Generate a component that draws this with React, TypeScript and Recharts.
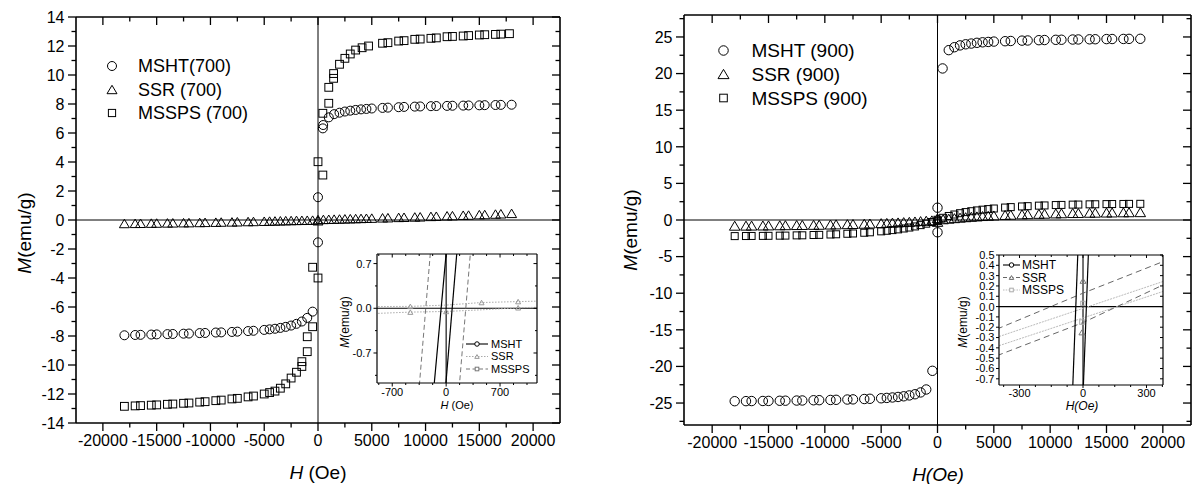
import React from 'react';
import { ScatterChart, ComposedChart, Scatter, Line, XAxis, YAxis, ReferenceLine } from 'recharts';

const FONT = '"Liberation Sans", Arial, Helvetica, sans-serif';

type Pt = [number, number];
const pts = (a: Pt[]) => a.map(([h, m]) => ({ h, m }));

// ---------------- main panel (700) ----------------
const MSHT_700: Pt[] = [
  [-18000, -7.95], [-17000, -7.93], [-16500, -7.92], [-15500, -7.9], [-15000, -7.89], [-14000, -7.87], [-13500, -7.86],
  [-12500, -7.84], [-12000, -7.83], [-11000, -7.8], [-10500, -7.79], [-9500, -7.76], [-9000, -7.75], [-8000, -7.72],
  [-7500, -7.7], [-6500, -7.66], [-6000, -7.64], [-5000, -7.58], [-4500, -7.54], [-4000, -7.5], [-3500, -7.44],
  [-3000, -7.37], [-2500, -7.28], [-2000, -7.16], [-1500, -7.0], [-1000, -6.75], [-500, -6.32],
  [0, 1.57], [0, -1.54],
  [450, 6.32], [480, 6.55], [1000, 7.08], [1500, 7.3], [2000, 7.4], [2500, 7.48], [3000, 7.54], [3500, 7.59], [4000, 7.63],
  [4500, 7.66], [5000, 7.69], [6000, 7.73], [6500, 7.75], [7500, 7.78], [8000, 7.8], [9000, 7.82], [9500, 7.83],
  [10500, 7.85], [11000, 7.86], [12000, 7.87], [12500, 7.88], [13500, 7.89], [14000, 7.9], [15000, 7.91], [15500, 7.92],
  [16500, 7.93], [17000, 7.94], [18000, 7.95],
];
const SSR_700: Pt[] = [
  [-18000, -0.24], [-17000, -0.23], [-16500, -0.225], [-15500, -0.215], [-15000, -0.21], [-14000, -0.2], [-13500, -0.195],
  [-12500, -0.185], [-12000, -0.18], [-11000, -0.17], [-10500, -0.16], [-9500, -0.15], [-9000, -0.14], [-8000, -0.13],
  [-7500, -0.12], [-6500, -0.105], [-6000, -0.1], [-5000, -0.085], [-4500, -0.075], [-4000, -0.065], [-3500, -0.055],
  [-3000, -0.045], [-2500, -0.035], [-2000, -0.025], [-1500, -0.02], [-1000, -0.015], [-500, -0.01],
  [0, 0.03], [0, -0.05],
  [500, 0.04], [1000, 0.05], [1500, 0.06], [2000, 0.07], [2500, 0.08], [3000, 0.09], [3500, 0.1], [4000, 0.11],
  [4500, 0.12], [5000, 0.13], [6000, 0.15], [6500, 0.16], [7500, 0.18], [8000, 0.19], [9000, 0.21], [9500, 0.22],
  [10500, 0.25], [11000, 0.26], [12000, 0.29], [12500, 0.3], [13500, 0.33], [14000, 0.34], [15000, 0.37], [15500, 0.38],
  [16500, 0.41], [17000, 0.43], [18000, 0.46],
];
const MSSPS_700: Pt[] = [
  [-18000, -12.85], [-17000, -12.82], [-16500, -12.8], [-15500, -12.77], [-15000, -12.75], [-14000, -12.71], [-13500, -12.69],
  [-12500, -12.64], [-12000, -12.62], [-11000, -12.56], [-10500, -12.53], [-9500, -12.46], [-9000, -12.42], [-8000, -12.34],
  [-7500, -12.3], [-6500, -12.2], [-6000, -12.14], [-5000, -12.0], [-4500, -11.9], [-4000, -11.8], [-3500, -11.6],
  [-3000, -11.3], [-2500, -10.9], [-2000, -10.5], [-1500, -10.1], [-1500, -9.77], [-1000, -9.08], [-1000, -8.05],
  [-500, -7.36], [-500, -3.26], [0, -4.0], [0, 4.02],
  [450, 3.1], [450, 7.36], [1000, 8.05], [1000, 9.15], [1450, 9.77], [1450, 10.1], [2000, 10.74], [2500, 11.15],
  [3000, 11.45], [3500, 11.72], [4100, 11.88], [4700, 12.0], [6000, 12.19], [6500, 12.23], [7500, 12.34], [8000, 12.37],
  [9000, 12.46], [9500, 12.48], [10500, 12.53], [11000, 12.56], [12000, 12.64], [12500, 12.66], [13500, 12.69],
  [14000, 12.72], [15000, 12.76], [15500, 12.78], [16500, 12.8], [17000, 12.82], [17800, 12.85],
];

// ---------------- main panel (900) ----------------
const MSHT_900: Pt[] = [
  [-18000, -24.75], [-17000, -24.74], [-16500, -24.73], [-15500, -24.72], [-15000, -24.71], [-14000, -24.69], [-13500, -24.68],
  [-12500, -24.66], [-12000, -24.65], [-11000, -24.62], [-10500, -24.61], [-9500, -24.58], [-9000, -24.56], [-8000, -24.52],
  [-7500, -24.5], [-6500, -24.45], [-6000, -24.42], [-5000, -24.35], [-4500, -24.3], [-4000, -24.24], [-3500, -24.17],
  [-3000, -24.08], [-2500, -23.96], [-2000, -23.8], [-1500, -23.55], [-1000, -23.15], [-450, -20.6],
  [0, 1.68], [0, -1.68],
  [450, 20.7], [1000, 23.2], [1500, 23.6], [2000, 23.85], [2500, 24.0], [3000, 24.1], [3500, 24.2], [4000, 24.27],
  [4500, 24.32], [5000, 24.37], [6000, 24.42], [6500, 24.45], [7500, 24.5], [8000, 24.52], [9000, 24.56], [9500, 24.58],
  [10500, 24.61], [11000, 24.62], [12000, 24.65], [12500, 24.66], [13500, 24.68], [14000, 24.69], [15000, 24.71],
  [15500, 24.72], [16500, 24.73], [17000, 24.74], [18000, 24.75],
];
const SSR_900: Pt[] = [
  [-18000, -0.78], [-17000, -0.77], [-16500, -0.76], [-15500, -0.75], [-15000, -0.74], [-14000, -0.72], [-13500, -0.71],
  [-12500, -0.69], [-12000, -0.68], [-11000, -0.66], [-10500, -0.65], [-9500, -0.62], [-9000, -0.6], [-8000, -0.57],
  [-7500, -0.55], [-6500, -0.51], [-6000, -0.48], [-5000, -0.43], [-4500, -0.4], [-4000, -0.36], [-3500, -0.33],
  [-3000, -0.29], [-2500, -0.25], [-2000, -0.2], [-1500, -0.15], [-1000, -0.1], [-500, -0.05],
  [0, 0.25], [0, -0.25],
  [500, 0.1], [1000, 0.18], [1500, 0.25], [2000, 0.32], [2500, 0.38], [3000, 0.44], [3500, 0.49], [4000, 0.54],
  [4500, 0.58], [5000, 0.62], [6000, 0.69], [6500, 0.72], [7500, 0.77], [8000, 0.8], [9000, 0.84], [9500, 0.86],
  [10500, 0.9], [11000, 0.92], [12000, 0.95], [12500, 0.96], [13500, 0.99], [14000, 1.0], [15000, 1.02], [15500, 1.03],
  [16500, 1.05], [17000, 1.06], [18000, 1.07],
];
const MSSPS_900: Pt[] = [
  [-18000, -2.2], [-17000, -2.19], [-16500, -2.18], [-15500, -2.17], [-15000, -2.16], [-14000, -2.14], [-13500, -2.13],
  [-12500, -2.1], [-12000, -2.09], [-11000, -2.05], [-10500, -2.03], [-9500, -1.98], [-9000, -1.95], [-8000, -1.88],
  [-7500, -1.84], [-6500, -1.74], [-6000, -1.68], [-5000, -1.55], [-4500, -1.47], [-4000, -1.38], [-3500, -1.28],
  [-3000, -1.16], [-2500, -1.03], [-2000, -0.88], [-1500, -0.7], [-1000, -0.5], [-500, -0.27],
  [0, 0.03], [0, -0.15],
  [500, 0.3], [1000, 0.55], [1500, 0.75], [2000, 0.93], [2500, 1.08], [3000, 1.2], [3500, 1.31], [4000, 1.41],
  [4500, 1.49], [5000, 1.57], [6000, 1.7], [6500, 1.76], [7500, 1.85], [8000, 1.89], [9000, 1.96], [9500, 1.99],
  [10500, 2.04], [11000, 2.06], [12000, 2.1], [12500, 2.11], [13500, 2.14], [14000, 2.15], [15000, 2.17], [15500, 2.18],
  [16500, 2.19], [17000, 2.2], [18000, 2.21],
];

// ---------------- insets ----------------
const IN700_MSHT_A: Pt[] = [[-250, -2.44], [60, 1.65]];
const IN700_MSHT_B: Pt[] = [[-100, -2.57], [200, 1.75]];
const IN700_SSR_A: Pt[] = [[-1000, 0.026], [-465, 0.03], [0, 0.05], [460, 0.09], [935, 0.105], [1300, 0.115]];
const IN700_SSR_B: Pt[] = [[-1000, -0.085], [-465, -0.06], [0, -0.05], [460, -0.024], [935, 0.008], [1300, 0.02]];
const IN700_SSR_MARK: Pt[] = [[-465, 0.03], [460, 0.09], [935, 0.105], [-465, -0.06], [0, -0.05], [935, 0.008]];
const IN700_MSSPS_A: Pt[] = [[-400, -1.96], [-100, 2.39]];
const IN700_MSSPS_B: Pt[] = [[100, -2.25], [400, 2.1]];

const IN900_MSHT_A: Pt[] = [[-60, -1.4], [0, 1.84]];
const IN900_MSHT_B: Pt[] = [[-20, -1.94], [40, 1.3]];
const IN900_SSR_A: Pt[] = [[-450, -0.255], [0, 0.13], [420, 0.47]];
const IN900_SSR_B: Pt[] = [[-450, -0.51], [0, -0.155], [420, 0.25]];
const IN900_SSR_MARK: Pt[] = [[0, 0.25], [-5, -0.25]];
const IN900_MSSPS_A: Pt[] = [[-450, -0.327], [420, 0.272]];
const IN900_MSSPS_B: Pt[] = [[-450, -0.415], [420, 0.175]];
const IN900_MSSPS_MARK: Pt[] = [[0, 0.03], [-5, -0.15]];

// ---------------- ticks ----------------
const X_MAIN_TICKS = [-20000, -17500, -15000, -12500, -10000, -7500, -5000, -2500, 0, 2500, 5000, 7500, 10000, 12500, 15000, 17500, 20000];
const X_MAIN_MAJORS = [-20000, -15000, -10000, -5000, 0, 5000, 10000, 15000, 20000];
const Y700_TICKS = [-14, -13, -12, -11, -10, -9, -8, -7, -6, -5, -4, -3, -2, -1, 0, 1, 2, 3, 4, 5, 6, 7, 8, 9, 10, 11, 12, 13, 14];
const Y700_MAJORS = [-14, -12, -10, -8, -6, -4, -2, 0, 2, 4, 6, 8, 10, 12, 14];
const Y900_TICKS = [-27.5, -25, -22.5, -20, -17.5, -15, -12.5, -10, -7.5, -5, -2.5, 0, 2.5, 5, 7.5, 10, 12.5, 15, 17.5, 20, 22.5, 25, 27.5];
const Y900_MAJORS = [-25, -20, -15, -10, -5, 0, 5, 10, 15, 20, 25];
const IN700_X_TICKS = [-875, -700, -525, -350, -175, 0, 175, 350, 525, 700, 875, 1050];
const IN700_X_MAJORS = [-700, 0, 700];
const IN700_Y_TICKS = [-1.05, -0.7, -0.35, 0, 0.35, 0.7];
const IN700_Y_MAJORS = [-0.7, 0, 0.7];
const IN900_X_TICKS = [-375, -300, -225, -150, -75, 0, 75, 150, 225, 300, 375];
const IN900_X_MAJORS = [-300, 0, 300];
const IN900_Y_TICKS = [0.5, 0.4, 0.3, 0.2, 0.1, 0, -0.1, -0.2, -0.3, -0.4, -0.5, -0.6, -0.7];

type Side = 'bottom' | 'top' | 'left' | 'right';
type TickCfg = {
  side: Side; inward: boolean; majors: number[]; major: number; minor: number; gap: number; fs: number;
  label: boolean; fmt?: (v: number) => string; sw: number;
};
const isIn = (arr: number[], v: number) => arr.some((a) => Math.abs(a - v) < 1e-9);

function makeTick(cfg: TickCfg) {
  return (p: any) => {
    const x = Number(p.x);
    const y = Number(p.y);
    const v = Number(p.payload?.value);
    const mj = isIn(cfg.majors, v);
    const len = mj ? cfg.major : cfg.minor;
    const d = cfg.inward ? -1 : 1;
    const txt = cfg.fmt ? cfg.fmt(v) : String(v);
    let line: any = null;
    let label: any = null;
    if (cfg.side === 'bottom') {
      line = <line x1={x} y1={y} x2={x} y2={y + d * len} />;
      if (mj && cfg.label)
        label = <text x={x} y={y + cfg.major + cfg.gap + cfg.fs * 0.72} textAnchor="middle">{txt}</text>;
    } else if (cfg.side === 'top') {
      line = <line x1={x} y1={y} x2={x} y2={y - d * len} />;
    } else if (cfg.side === 'left') {
      line = <line x1={x} y1={y} x2={x - d * len} y2={y} />;
      if (mj && cfg.label)
        label = <text x={x - cfg.major - cfg.gap} y={y + cfg.fs * 0.36} textAnchor="end">{txt}</text>;
    } else {
      line = <line x1={x} y1={y} x2={x + d * len} y2={y} />;
    }
    return (
      <g>
        <g stroke="#000" strokeWidth={cfg.sw}>{line}</g>
        {label && <g fill="#000" stroke="none" fontSize={cfg.fs} fontFamily={FONT}>{label}</g>}
      </g>
    );
  };
}

type FrameOpts = {
  xDomain: [number, number]; xTicks: number[]; xMajors: number[];
  yDomain: [number, number]; yTicks: number[]; yMajors: number[];
  xH: number; yW: number; fs: number; major: number; minor: number; gap: number; sw: number; axisW: number;
  fmtX?: (v: number) => string; fmtY?: (v: number) => string;
};

function frameAxes(o: FrameOpts) {
  const common = { major: o.major, minor: o.minor, gap: o.gap, fs: o.fs, sw: o.sw };
  const al = { stroke: '#000', strokeWidth: o.axisW };
  return [
    <XAxis key="xb" xAxisId="b" type="number" dataKey="h" domain={o.xDomain} ticks={o.xTicks} interval={0}
      allowDataOverflow height={o.xH} tickSize={0} tickMargin={0} axisLine={al} tickLine={false}
      tick={makeTick({ ...common, side: 'bottom', inward: false, majors: o.xMajors, label: true, fmt: o.fmtX })} />,
    <XAxis key="xt" xAxisId="t" orientation="top" type="number" dataKey="h" domain={o.xDomain} ticks={o.xTicks} interval={0}
      allowDataOverflow height={1} tickSize={0} tickMargin={0} axisLine={al} tickLine={false}
      tick={makeTick({ ...common, side: 'top', inward: true, majors: o.xMajors, label: false })} />,
    <YAxis key="yl" yAxisId="l" type="number" dataKey="m" domain={o.yDomain} ticks={o.yTicks} interval={0}
      allowDataOverflow width={o.yW} tickSize={0} tickMargin={0} axisLine={al} tickLine={false}
      tick={makeTick({ ...common, side: 'left', inward: false, majors: o.yMajors, label: true, fmt: o.fmtY })} />,
    <YAxis key="yr" yAxisId="r" orientation="right" type="number" dataKey="m" domain={o.yDomain} ticks={o.yTicks} interval={0}
      allowDataOverflow width={1} tickSize={0} tickMargin={0} axisLine={al} tickLine={false}
      tick={makeTick({ ...common, side: 'right', inward: true, majors: o.yMajors, label: false })} />,
  ];
}

const circleShape = (r: number, stroke = '#000') => (p: any) =>
  <circle cx={p.cx} cy={p.cy} r={r} fill="none" stroke={stroke} strokeWidth={1} />;
const triShape = (w: number, h: number, stroke = '#000') => (p: any) =>
  <polygon points={`${p.cx},${p.cy - h / 2} ${p.cx - w / 2},${p.cy + h / 2} ${p.cx + w / 2},${p.cy + h / 2}`}
    fill="none" stroke={stroke} strokeWidth={1} />;
const sqShape = (s: number, stroke = '#000') => (p: any) =>
  <rect x={p.cx - s / 2} y={p.cy - s / 2} width={s} height={s} fill="none" stroke={stroke} strokeWidth={1} />;

function LeftMain() {
  return (
    <div style={{ position: 'absolute', left: 0, top: 0 }}>
      <ScatterChart width={600} height={484} margin={{ top: 16, right: 39, bottom: 0, left: 0 }}>
        {frameAxes({
          xDomain: [-22500, 22500], xTicks: X_MAIN_TICKS, xMajors: X_MAIN_MAJORS,
          yDomain: [-14, 14], yTicks: Y700_TICKS, yMajors: Y700_MAJORS,
          xH: 61, yW: 76, fs: 16, major: 8, minor: 4.5, gap: 3.5, sw: 1.3, axisW: 1.6,
        })}
        <ReferenceLine xAxisId="b" yAxisId="l" x={0} stroke="#000" strokeWidth={1} />
        <ReferenceLine xAxisId="b" yAxisId="l" y={0} stroke="#000" strokeWidth={1} />
        <Scatter xAxisId="b" yAxisId="l" data={pts(SSR_700)} shape={triShape(10, 8.5)} isAnimationActive={false} />
        <Scatter xAxisId="b" yAxisId="l" data={pts(MSHT_700)} shape={circleShape(4.5)} isAnimationActive={false} />
        <Scatter xAxisId="b" yAxisId="l" data={pts(MSSPS_700)} shape={sqShape(7.8)} isAnimationActive={false} />
      </ScatterChart>
    </div>
  );
}

function RightMain() {
  return (
    <div style={{ position: 'absolute', left: 600, top: 0 }}>
      <ScatterChart width={592} height={484} margin={{ top: 14, right: 0, bottom: 0, left: 0 }}>
        {frameAxes({
          xDomain: [-22500, 22500], xTicks: X_MAIN_TICKS, xMajors: X_MAIN_MAJORS,
          yDomain: [-28, 28], yTicks: Y900_TICKS, yMajors: Y900_MAJORS,
          xH: 59, yW: 84, fs: 16, major: 8, minor: 4.5, gap: 3.5, sw: 1.3, axisW: 1.6,
        })}
        <ReferenceLine xAxisId="b" yAxisId="l" x={0} stroke="#000" strokeWidth={1} />
        <ReferenceLine xAxisId="b" yAxisId="l" y={0} stroke="#000" strokeWidth={1} />
        <Scatter xAxisId="b" yAxisId="l" data={pts(SSR_900)} shape={triShape(10.5, 9)} isAnimationActive={false} />
        <Scatter xAxisId="b" yAxisId="l" data={pts(MSSPS_900)} shape={sqShape(7)} isAnimationActive={false} />
        <Scatter xAxisId="b" yAxisId="l" data={pts(MSHT_900)} shape={circleShape(4.7)} isAnimationActive={false} />
      </ScatterChart>
    </div>
  );
}

function LeftInset() {
  return (
    <div style={{ position: 'absolute', left: 330, top: 240 }}>
      <ComposedChart width={225} height={175} margin={{ top: 13, right: 17, bottom: 0, left: 0 }}>
        {frameAxes({
          xDomain: [-898, 1180], xTicks: IN700_X_TICKS, xMajors: IN700_X_MAJORS,
          yDomain: [-1.17, 0.85], yTicks: IN700_Y_TICKS, yMajors: IN700_Y_MAJORS,
          xH: 32, yW: 47, fs: 11, major: 3.5, minor: 2, gap: 2, sw: 1, axisW: 1.2,
          fmtY: (v) => v.toFixed(1),
        })}
        <ReferenceLine xAxisId="b" yAxisId="l" x={0} stroke="#000" strokeWidth={1.1} />
        <ReferenceLine xAxisId="b" yAxisId="l" y={0} stroke="#000" strokeWidth={1.1} />
        <Line xAxisId="b" yAxisId="l" data={pts(IN700_SSR_A)} dataKey="m" type="linear" stroke="#aaa" strokeWidth={1} strokeDasharray="1.5 1.5" dot={false} isAnimationActive={false} />
        <Line xAxisId="b" yAxisId="l" data={pts(IN700_SSR_B)} dataKey="m" type="linear" stroke="#aaa" strokeWidth={1} strokeDasharray="1.5 1.5" dot={false} isAnimationActive={false} />
        <Line xAxisId="b" yAxisId="l" data={pts(IN700_MSSPS_A)} dataKey="m" type="linear" stroke="#777" strokeWidth={1} strokeDasharray="5 3" dot={false} isAnimationActive={false} />
        <Line xAxisId="b" yAxisId="l" data={pts(IN700_MSSPS_B)} dataKey="m" type="linear" stroke="#777" strokeWidth={1} strokeDasharray="5 3" dot={false} isAnimationActive={false} />
        <Line xAxisId="b" yAxisId="l" data={pts(IN700_MSHT_A)} dataKey="m" type="linear" stroke="#000" strokeWidth={1.2} dot={false} isAnimationActive={false} />
        <Line xAxisId="b" yAxisId="l" data={pts(IN700_MSHT_B)} dataKey="m" type="linear" stroke="#000" strokeWidth={1.2} dot={false} isAnimationActive={false} />
        <Scatter xAxisId="b" yAxisId="l" data={pts(IN700_SSR_MARK)} shape={triShape(5, 4.5, '#999')} isAnimationActive={false} />
      </ComposedChart>
    </div>
  );
}

function RightInset() {
  return (
    <div style={{ position: 'absolute', left: 950, top: 240 }}>
      <ComposedChart width={225} height={175} margin={{ top: 14, right: 11, bottom: 0, left: 0 }}>
        {frameAxes({
          xDomain: [-397, 378], xTicks: IN900_X_TICKS, xMajors: IN900_X_MAJORS,
          yDomain: [-0.76, 0.5], yTicks: IN900_Y_TICKS, yMajors: IN900_Y_TICKS,
          xH: 30, yW: 49, fs: 11, major: 3, minor: 2, gap: 1.5, sw: 1, axisW: 1.2,
          fmtY: (v) => v.toFixed(1),
        })}
        <ReferenceLine xAxisId="b" yAxisId="l" x={0} stroke="#000" strokeWidth={1.1} />
        <ReferenceLine xAxisId="b" yAxisId="l" y={0} stroke="#000" strokeWidth={1.2} />
        <Line xAxisId="b" yAxisId="l" data={pts(IN900_MSSPS_A)} dataKey="m" type="linear" stroke="#bbb" strokeWidth={1} strokeDasharray="2 1" dot={false} isAnimationActive={false} />
        <Line xAxisId="b" yAxisId="l" data={pts(IN900_MSSPS_B)} dataKey="m" type="linear" stroke="#bbb" strokeWidth={1} strokeDasharray="2 1" dot={false} isAnimationActive={false} />
        <Line xAxisId="b" yAxisId="l" data={pts(IN900_SSR_A)} dataKey="m" type="linear" stroke="#666" strokeWidth={1} strokeDasharray="6 4" dot={false} isAnimationActive={false} />
        <Line xAxisId="b" yAxisId="l" data={pts(IN900_SSR_B)} dataKey="m" type="linear" stroke="#666" strokeWidth={1} strokeDasharray="6 4" dot={false} isAnimationActive={false} />
        <Line xAxisId="b" yAxisId="l" data={pts(IN900_MSHT_A)} dataKey="m" type="linear" stroke="#000" strokeWidth={1.2} dot={false} isAnimationActive={false} />
        <Line xAxisId="b" yAxisId="l" data={pts(IN900_MSHT_B)} dataKey="m" type="linear" stroke="#000" strokeWidth={1.2} dot={false} isAnimationActive={false} />
        <Scatter xAxisId="b" yAxisId="l" data={pts(IN900_SSR_MARK)} shape={triShape(6, 5, '#777')} isAnimationActive={false} />
        <Scatter xAxisId="b" yAxisId="l" data={pts(IN900_MSSPS_MARK)} shape={sqShape(4.5, '#aaa')} isAnimationActive={false} />
      </ComposedChart>
    </div>
  );
}

type Sym = 'circle' | 'tri' | 'sq';
function symbol(kind: Sym, cx: number, cy: number, s: number, stroke = '#000', fill = 'none') {
  if (kind === 'circle') return <circle cx={cx} cy={cy} r={s / 2} fill={fill} stroke={stroke} strokeWidth={1} />;
  if (kind === 'tri')
    return <polygon points={`${cx},${cy - s * 0.42} ${cx - s / 2},${cy + s * 0.42} ${cx + s / 2},${cy + s * 0.42}`} fill={fill} stroke={stroke} strokeWidth={1} />;
  return <rect x={cx - s * 0.4} y={cy - s * 0.4} width={s * 0.8} height={s * 0.8} fill={fill} stroke={stroke} strokeWidth={1} />;
}

const LEG_700 = ['MSHT(700)', 'SSR (700)', 'MSSPS (700)'];
const LEG_900 = ['MSHT (900)', 'SSR (900)', 'MSSPS (900)'];
const LEG_INSET = ['MSHT', 'SSR', 'MSSPS'];
const SYMS: Sym[] = ['circle', 'tri', 'sq'];

function Overlay() {
  const rowsL = [66, 89.5, 113];
  const rowsR = [50.5, 74, 98];
  const inL = [344, 356.5, 369];
  const inR = [265, 277.5, 290];
  const inLStyle = [
    { stroke: '#000', dash: undefined, mk: '#000' },
    { stroke: '#aaa', dash: '1.5 1.5', mk: '#999' },
    { stroke: '#777', dash: '4 2.5', mk: '#777' },
  ];
  const inRStyle = [
    { stroke: '#000', dash: undefined, mk: '#000' },
    { stroke: '#666', dash: '4 2.5', mk: '#666' },
    { stroke: '#bbb', dash: '1.5 1.2', mk: '#aaa' },
  ];
  return (
    <svg width={1192} height={484} style={{ position: 'absolute', left: 0, top: 0, pointerEvents: 'none' }} fontFamily={FONT}>
      {/* main legends */}
      {LEG_700.map((t, i) => (
        <g key={'l7' + i}>
          {symbol(SYMS[i], 112, rowsL[i], i === 1 ? 10 : 9)}
          <text x={138} y={rowsL[i] + 18 * 0.36} fontSize={18} fill="#000">{t}</text>
        </g>
      ))}
      {LEG_900.map((t, i) => (
        <g key={'l9' + i}>
          {symbol(SYMS[i], 723.5, rowsR[i], i === 1 ? 11 : 9.5)}
          <text x={751.5} y={rowsR[i] + 19 * 0.36} fontSize={19} fill="#000">{t}</text>
        </g>
      ))}
      {/* inset legends */}
      {LEG_INSET.map((t, i) => (
        <g key={'il7' + i}>
          <line x1={466} y1={inL[i]} x2={488} y2={inL[i]} stroke={inLStyle[i].stroke} strokeWidth={1.1} strokeDasharray={inLStyle[i].dash} />
          {symbol(SYMS[i], 477, inL[i], 4.5, inLStyle[i].mk, '#fff')}
          <text x={491} y={inL[i] + 11 * 0.36} fontSize={11} fill="#000">{t}</text>
        </g>
      ))}
      {LEG_INSET.map((t, i) => (
        <g key={'il9' + i}>
          <line x1={1003} y1={inR[i]} x2={1020} y2={inR[i]} stroke={inRStyle[i].stroke} strokeWidth={1.1} strokeDasharray={inRStyle[i].dash} />
          {symbol(SYMS[i], 1011.5, inR[i], 4.5, inRStyle[i].mk, '#fff')}
          <text x={1022} y={inR[i] + 12 * 0.36} fontSize={12} fill="#000">{t}</text>
        </g>
      ))}
      {/* main axis titles */}
      <text transform="translate(31,233) rotate(-90)" textAnchor="middle" fontSize={19} fill="#000">
        <tspan fontStyle="italic">M</tspan>(emu/g)
      </text>
      <text transform="translate(637,230) rotate(-90)" textAnchor="middle" fontSize={19} fill="#000">
        <tspan fontStyle="italic">M</tspan>(emu/g)
      </text>
      <text x={318} y={479} textAnchor="middle" fontSize={19} fill="#000">
        <tspan fontStyle="italic">H</tspan> (Oe)
      </text>
      <text x={938} y={481} textAnchor="middle" fontSize={19} fill="#000" fontStyle="italic">H(Oe)</text>
      {/* inset axis titles */}
      <text transform="translate(349,322) rotate(-90)" textAnchor="middle" fontSize={12} fill="#000">
        <tspan fontStyle="italic">M</tspan>(emu/g)
      </text>
      <text transform="translate(967,322) rotate(-90)" textAnchor="middle" fontSize={12} fill="#000">
        <tspan fontStyle="italic">M</tspan>(emu/g)
      </text>
      <text x={457} y={409} textAnchor="middle" fontSize={11} fill="#000">
        <tspan fontStyle="italic">H</tspan> (Oe)
      </text>
      <text x={1082} y={410} textAnchor="middle" fontSize={12} fill="#000" fontStyle="italic">H(Oe)</text>
    </svg>
  );
}

export default function App() {
  return (
    <div style={{ position: 'absolute', left: 0, top: 0, width: 1192, height: 484, background: '#fff', overflow: 'hidden', fontFamily: FONT }}>
      <LeftMain />
      <RightMain />
      <LeftInset />
      <RightInset />
      <Overlay />
    </div>
  );
}
